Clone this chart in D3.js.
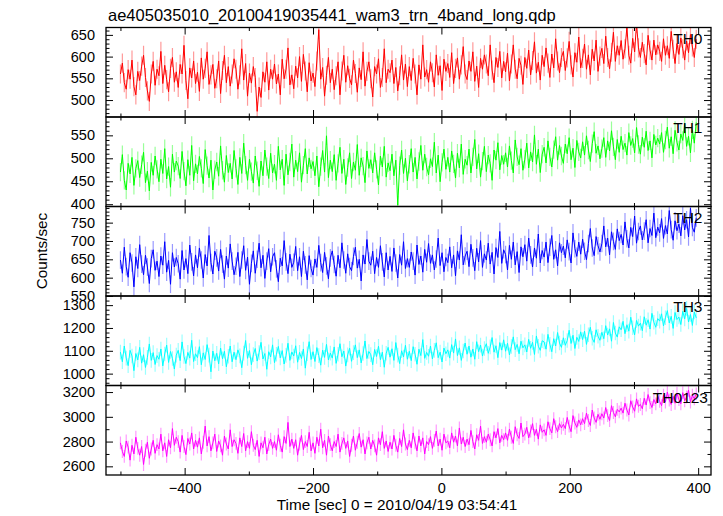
<!DOCTYPE html>
<html><head><meta charset="utf-8">
<script src="https://cdn.jsdelivr.net/npm/d3@7"></script>
<style>body{margin:0;background:#fff}svg{display:block}text{font-family:"Liberation Sans",Arial,Helvetica,sans-serif}</style>
</head><body><svg id="c" width="723" height="516"></svg>
<script>
const chartTitle = "ae405035010_20100419035441_wam3_trn_4band_long.qdp";
const xTitle = "Time [sec] 0 = 2010/04/19 03:54:41";
const yTitle = "Counts/sec";
const tStart = -500, binSize = 3;
const seriesNames = ["TH0","TH1","TH2","TH3","TH0123"];
const th0 = [
560,585,540,525,570,548,592,531,512,566,
545,578,603,552,521,497,560,589,534,571,
556,612,538,580,547,519,573,598,541,565,
529,582,560,626,545,503,574,551,590,538,
564,520,597,548,573,611,536,558,582,527,
549,590,515,568,603,540,577,532,560,595,
571,525,558,618,546,584,509,562,539,577,
552,474,530,506,565,541,588,523,571,548,
583,537,560,512,594,549,571,620,535,558,
526,578,551,600,543,605,567,519,586,544,
562,531,590,662,548,575,509,557,598,540,
571,524,556,588,512,567,603,541,579,550,
535,592,561,518,574,547,611,532,566,588,
549,507,577,560,595,529,552,618,540,571,
563,592,538,575,521,556,604,546,583,531,
577,545,596,560,512,581,548,627,553,570,
541,588,563,530,604,557,579,522,594,566,
584,552,609,538,573,597,548,581,623,560,
547,590,566,611,543,578,529,596,571,604,
583,556,627,569,540,598,575,612,551,589,
565,608,544,583,627,571,549,596,580,536,
598,573,615,558,591,634,562,587,546,603,
577,620,585,552,606,574,641,590,563,598,
612,568,597,635,581,553,609,587,645,574,
596,629,571,604,558,617,590,638,566,601,
619,584,647,598,572,610,656,589,625,603,
637,594,618,668,603,585,642,611,676,620,
598,633,607,581,649,615,592,638,604,627,
612,589,641,603,625,596,658,617,584,630,
605,643,618,592,636,609,651,622,598,640];
const th1 = [
470,508,452,431,489,466,502,441,478,495,
458,486,513,447,472,429,491,463,505,476,
449,498,467,521,455,482,437,509,470,494,
483,456,515,472,440,497,463,528,451,488,
466,504,478,445,519,484,457,496,431,475,
492,461,527,474,448,506,469,489,455,517,
478,443,502,467,533,485,452,498,471,446,
505,473,439,494,462,518,482,456,511,468,
487,452,526,475,498,441,509,464,492,531,
459,496,471,512,448,485,521,466,501,477,
493,462,505,438,482,517,470,549,458,496,
471,508,452,489,524,467,498,443,480,512,
456,492,474,530,463,501,483,447,516,478,
497,468,512,476,442,505,481,526,459,490,
473,509,462,496,398,484,518,467,500,451,
487,521,470,502,455,493,528,474,509,481,
464,499,482,535,468,507,449,491,520,476,
502,470,516,488,457,511,479,531,465,498,
485,520,468,503,541,477,510,459,494,526,
471,507,489,452,518,496,534,475,506,487,
512,481,527,495,468,540,503,486,521,474,
498,533,479,514,492,551,487,520,469,509,
524,490,538,503,481,519,547,496,528,505,
489,531,510,545,497,522,480,539,514,501,
536,507,549,518,493,532,558,511,527,499,
521,545,502,538,516,560,525,497,541,513,
548,519,533,507,556,528,543,512,567,530,
509,546,524,559,517,538,501,552,529,544,
531,556,513,540,568,522,547,510,561,535,
518,553,539,574,526,548,512,562,533,578];
const th2 = [
648,612,683,630,601,668,640,575,657,625,
690,637,608,661,629,584,652,676,620,645,
603,659,634,698,615,647,582,668,629,655,
638,596,674,621,652,611,689,643,605,662,
627,681,648,599,663,632,715,641,610,672,
654,618,677,637,596,659,626,692,645,608,
631,669,603,648,687,620,656,582,639,673,
612,650,694,627,661,598,645,679,616,657,
668,624,589,653,632,701,643,611,664,628,
642,685,619,657,603,672,635,594,660,625,
607,651,628,688,641,614,669,632,597,654,
673,636,604,661,627,695,648,612,665,630,
619,658,683,626,650,591,662,637,704,645,
634,672,611,655,628,687,643,602,668,621,
658,617,681,640,599,663,634,698,625,652,
628,670,645,607,689,636,659,615,677,642,
693,639,662,621,651,708,633,668,616,655,
641,684,627,662,605,673,648,717,635,659,
672,630,691,654,619,680,643,701,628,665,
648,694,637,669,610,682,655,726,639,676,
663,621,688,650,697,635,671,614,684,657,
690,645,708,662,629,681,653,719,640,674,
656,697,641,683,715,650,676,632,695,668,
686,654,703,671,640,722,679,658,697,664,
705,672,649,693,734,681,660,712,687,670,
693,741,684,708,662,725,699,677,733,701,
718,689,752,706,681,737,712,768,694,726,
741,703,727,758,695,734,715,776,709,738,
722,761,707,742,719,783,731,702,755,728,
746,714,769,730,758,711,789,737,724,763];
const th3 = [
1094,1052,1121,1068,1035,1102,1077,1013,1088,1060,
1115,1046,1083,1027,1071,1130,1058,1092,1040,1079,
1063,1108,1034,1086,1125,1049,1097,1066,1020,1081,
1102,1057,1139,1075,1044,1093,1068,1146,1053,1087,
1070,1118,1039,1091,1062,1127,1081,1008,1099,1056,
1089,1043,1112,1065,1098,1030,1076,1121,1052,1094,
1061,1104,1078,1026,1090,1145,1067,1101,1039,1083,
1110,1055,1092,1137,1064,1088,1019,1096,1073,1126,
1048,1085,1119,1069,1101,1042,1080,1133,1058,1095,
1077,1122,1050,1093,1066,1108,1024,1087,1140,1062,
1096,1053,1114,1079,1037,1103,1071,1128,1060,1090,
1068,1117,1045,1085,1131,1074,1099,1033,1082,1111,
1054,1092,1126,1070,1104,1047,1088,1143,1066,1097,
1083,1039,1106,1075,1120,1061,1094,1028,1089,1115,
1072,1109,1058,1136,1081,1044,1100,1073,1124,1063,
1098,1057,1118,1085,1041,1107,1079,1149,1067,1093,
1076,1121,1064,1102,1135,1070,1094,1051,1112,1087,
1104,1068,1127,1090,1152,1079,1113,1058,1099,1134,
1085,1121,1072,1108,1063,1140,1096,1125,1077,1110,
1131,1089,1117,1158,1094,1122,1070,1136,1103,1148,
1098,1133,1082,1119,1161,1105,1128,1087,1142,1113,
1126,1095,1150,1111,1137,1084,1165,1120,1102,1144,
1139,1107,1172,1128,1096,1153,1121,1180,1134,1115,
1157,1124,1145,1190,1132,1168,1110,1159,1141,1183,
1149,1186,1128,1170,1203,1155,1137,1192,1164,1146,
1181,1153,1210,1169,1196,1142,1224,1178,1160,1205,
1192,1229,1175,1214,1186,1247,1201,1170,1233,1208,
1221,1188,1249,1212,1236,1195,1264,1225,1203,1241,
1230,1262,1209,1245,1276,1222,1251,1198,1268,1237,
1248,1215,1273,1240,1286,1226,1259,1211,1270,1244];
const th0123 = [
2790,2720,2680,2805,2755,2650,2770,2700,2835,2745,
2690,2760,2615,2730,2795,2665,2740,2810,2705,2775,
2740,2860,2725,2790,2680,2815,2750,2905,2770,2835,
2800,2715,2850,2760,2695,2825,2780,2870,2740,2810,
2755,2830,2700,2795,2925,2765,2840,2725,2790,2860,
2720,2805,2765,2690,2845,2780,2740,2895,2760,2815,
2785,2705,2830,2760,2865,2725,2800,2745,2880,2770,
2735,2810,2680,2790,2750,2835,2700,2775,2820,2745,
2800,2730,2855,2770,2715,2840,2785,2955,2760,2820,
2745,2815,2690,2780,2850,2735,2800,2760,2875,2725,
2790,2705,2835,2765,2900,2750,2810,2690,2845,2775,
2725,2800,2760,2860,2715,2785,2830,2745,2805,2680,
2770,2845,2730,2795,2865,2755,2815,2700,2790,2835,
2740,2810,2765,2690,2830,2775,2880,2745,2805,2720,
2795,2740,2850,2770,2715,2825,2760,2895,2780,2735,
2810,2750,2870,2790,2725,2845,2765,2830,2700,2800,
2775,2840,2745,2810,2885,2765,2820,2730,2860,2790,
2805,2750,2870,2795,2845,2765,2910,2780,2835,2760,
2820,2775,2890,2800,2740,2855,2810,2925,2785,2840,
2795,2860,2815,2765,2880,2830,2905,2790,2850,2815,
2870,2810,2900,2835,2785,2920,2855,2825,2950,2840,
2860,2915,2830,2885,2945,2850,2900,2820,2935,2875,
2895,2850,2960,2905,2870,2985,2920,2880,2945,2910,
2940,2905,2995,2925,2880,3010,2950,2915,2975,2935,
2985,2945,3030,2970,2930,3055,2990,2955,3020,2980,
3025,2990,3075,3010,2970,3090,3035,3000,3060,3040,
3070,3030,3110,3055,3015,3130,3080,3045,3145,3085,
3100,3065,3150,3095,3180,3115,3075,3140,3105,3170,
3125,3090,3175,3120,3200,3135,3100,3165,3110,3190,
3140,3105,3195,3130,3160,3215,3120,3175,3145,3185];
const seriesValues = [th0, th1, th2, th3, th0123];
const seriesErrors = [22, 20, 24, 32, 52];
const seriesColors = ["#ff0000","#00ff00","#0000ff","#00ffff","#ff00ff"];
const yDomains = [[461,667],[395,590],[550,794],[948,1340],[2530,3253]];
const yMajorTicks = [[500,550,600,650],[400,450,500,550],[550,600,650,700,750],[1000,1100,1200,1300],[2600,2800,3000,3200]];
const yMinorSteps = [10,10,10,20,100];
const xMajorTicks = [-400,-200,0,200,400];
const xMinorTicks = [-500,-300,-100,100,300];
const xDomain = [-522.5, 420];

const svg = d3.select("#c");
const L = 106, R = 711, T = 27.5, PH = 89.5;
const x = d3.scaleLinear().domain(xDomain).range([L, R]);
const fmt = d3.format("d");

seriesValues.forEach((vals, k) => {
  const top = T + k*PH, bot = top + PH;
  const y = d3.scaleLinear().domain(yDomains[k]).range([bot, top]);
  const g = svg.append("g");
  const clipId = "clip"+k;
  svg.append("clipPath").attr("id", clipId).append("rect")
     .attr("x", L).attr("y", top).attr("width", R-L).attr("height", PH);
  const data = vals.map((v,i) => ({t: tStart + i*binSize, v}));
  const pg = g.append("g").attr("clip-path", `url(#${clipId})`);
  const err = seriesErrors[k];
  pg.selectAll("line.err").data(data).join("line")
    .attr("x1", d => x(d.t)).attr("x2", d => x(d.t))
    .attr("y1", d => y(d.v - err)).attr("y2", d => y(d.v + err))
    .attr("stroke", seriesColors[k]).attr("stroke-opacity", 0.4).attr("stroke-width", 1.2);
  pg.append("path").datum(data)
    .attr("d", d3.line().x(d => x(d.t)).y(d => y(d.v)))
    .attr("fill","none").attr("stroke", seriesColors[k]).attr("stroke-width", 1);

  const minor = d3.range(Math.ceil(yDomains[k][0]/yMinorSteps[k])*yMinorSteps[k], yDomains[k][1], yMinorSteps[k])
                  .filter(v => !yMajorTicks[k].includes(v));
  const ax = (axisFn, scale, vals, size, showLabels, pad) => {
    const a = axisFn(scale).tickValues(vals).tickSizeInner(-size).tickSizeOuter(0).tickPadding(pad);
    a.tickFormat(showLabels ? fmt : "");
    return a;
  };
  const styleAxis = sel => { sel.select(".domain").remove(); sel.selectAll("line").attr("stroke","#000").attr("stroke-width",1);
    sel.selectAll("text").attr("font-size","14.5px").attr("fill","#000").attr("font-family",'"Liberation Sans",Arial,sans-serif'); };
  g.append("g").attr("transform",`translate(${L},0)`).call(ax(d3.axisLeft, y, yMajorTicks[k], 7, true, 11)).call(styleAxis);
  g.append("g").attr("transform",`translate(${L},0)`).call(ax(d3.axisLeft, y, minor, 3.5, false, 0)).call(styleAxis);
  g.append("g").attr("transform",`translate(${R},0)`).call(ax(d3.axisRight, y, yMajorTicks[k], 7, false, 0)).call(styleAxis);
  g.append("g").attr("transform",`translate(${R},0)`).call(ax(d3.axisRight, y, minor, 3.5, false, 0)).call(styleAxis);
  const isLast = k === seriesValues.length-1;
  g.append("g").attr("transform",`translate(0,${bot})`).call(ax(d3.axisBottom, x, xMajorTicks, 7, isLast, 8)).call(styleAxis);
  g.append("g").attr("transform",`translate(0,${bot})`).call(ax(d3.axisBottom, x, xMinorTicks, 3.5, false, 0)).call(styleAxis);
  g.append("g").attr("transform",`translate(0,${top})`).call(ax(d3.axisTop, x, xMajorTicks, 7, false, 0)).call(styleAxis);
  g.append("g").attr("transform",`translate(0,${top})`).call(ax(d3.axisTop, x, xMinorTicks, 3.5, false, 0)).call(styleAxis);

  g.append("rect").attr("x", L).attr("y", top).attr("width", R-L).attr("height", PH)
    .attr("fill","none").attr("stroke","#000").attr("stroke-width",1.3);
  const lblX = isLast ? 708 : 702.5;
  const lblY = top + (isLast ? 17 : 16);
  g.append("text").attr("x", lblX).attr("y", lblY).attr("text-anchor","end")
    .attr("font-size","15.5px").attr("fill","#000").text(seriesNames[k]);
});

svg.append("text").attr("x", 108).attr("y", 20.5).attr("font-size","16.5px").attr("fill","#000").text(chartTitle);
svg.append("text").attr("x", 397).attr("y", 510).attr("text-anchor","middle").attr("font-size","15.3px").attr("fill","#000").text(xTitle);
svg.append("text").attr("transform","translate(47,251) rotate(-90)").attr("text-anchor","middle").attr("font-size","15.3px").attr("fill","#000").text(yTitle);
</script></body></html>
